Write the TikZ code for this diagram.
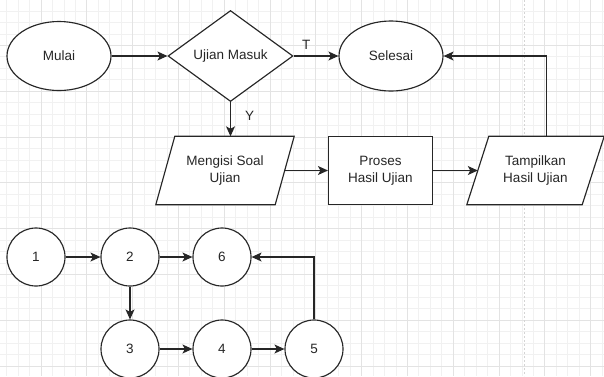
\documentclass[tikz,border=0pt]{standalone}
\usepackage{fontspec}
\setmainfont{Liberation Sans}
\usetikzlibrary{shapes.geometric,arrows.meta}
\definecolor{ink}{HTML}{262626}
\definecolor{gridminor}{HTML}{F1F1F1}
\definecolor{gridmajor}{HTML}{E3E3E3}
\definecolor{pagebrk}{HTML}{D4D4D4}
\pgfdeclarelayer{gridlayer}
\pgfdeclarelayer{bg}
\pgfsetlayers{gridlayer,bg,main}
\begin{document}
\begin{tikzpicture}[x=1pt,y=-1pt,
  every node/.style={font=\fontsize{13.5}{16.5}\selectfont, text=ink},
  shapeline/.style={draw=ink, line width=1.15pt, fill=white},
  oval/.style={shapeline, ellipse, inner sep=0pt},
  decision/.style={shapeline, diamond, inner sep=0pt},
  procbox/.style={shapeline, rectangle, inner sep=0pt, align=center},
  iobox/.style={rectangle, inner sep=0pt, align=center},
  numnode/.style={shapeline, circle, inner sep=0pt, minimum size=58pt},
  flow/.style={draw=ink, line width=1.15pt, -{Stealth[length=10pt,width=9pt,inset=2.5pt]}},
  edgelabel/.style={inner sep=0pt},
  minorline/.style={draw=gridminor, line width=0.8pt},
  majorline/.style={draw=gridmajor, line width=0.8pt},
  pagebreak/.style={draw=pagebrk, line width=0.9pt, dash pattern=on 2pt off 2pt}
]
\useasboundingbox (0,0) rectangle (604,376);

% ---------- grid background ----------
\begin{pgfonlayer}{gridlayer}
  \fill[white] (0,0) rectangle (604,376);
  \begin{scope}
    \clip (0,0) rectangle (604,376);
    \foreach \i in {0,...,53} {
      \draw[minorline] ({6.65+11.45*\i},0) -- ({6.65+11.45*\i},376);
    }
    \foreach \j in {0,...,33} {
      \draw[minorline] (0,{-0.4+11.45*\j}) -- (604,{-0.4+11.45*\j});
    }
    \foreach \i in {0,...,13} {
      \draw[majorline] ({-4.8+45.8*\i},0) -- ({-4.8+45.8*\i},376);
    }
    \foreach \j in {0,...,8} {
      \draw[majorline] (0,{-0.4+45.8*\j}) -- (604,{-0.4+45.8*\j});
    }
    \draw[pagebreak] (524,0) -- (524,376);
  \end{scope}
\end{pgfonlayer}

% ---------- flowchart ----------
\node[oval, minimum width=104pt, minimum height=69pt] (mulai) at (59,56) {Mulai};
\node[decision, minimum width=125pt, minimum height=91pt] (ujian) at (230.5,56) {\makebox[0pt]{Ujian Masuk}};
\node[oval, minimum width=104pt, minimum height=70pt] (selesai) at (391,56) {Selesai};

\node[iobox, minimum width=119pt, minimum height=68pt] (mengisi) at (225,170.5) {Mengisi Soal\\Ujian};
\node[procbox, minimum width=104pt, minimum height=68pt] (proses) at (380.5,170.5) {Proses\\Hasil Ujian};
\node[iobox, minimum width=115pt, minimum height=68pt] (tampil) at (535.5,170.5) {Tampilkan\\Hasil Ujian};

\begin{pgfonlayer}{bg}
  \draw[shapeline] ([xshift=9.5pt]mengisi.north west) -- ([xshift=9.5pt]mengisi.north east)
    -- ([xshift=-9.5pt]mengisi.south east) -- ([xshift=-9.5pt]mengisi.south west) -- cycle;
  \draw[shapeline] ([xshift=11pt]tampil.north west) -- ([xshift=11pt]tampil.north east)
    -- ([xshift=-11pt]tampil.south east) -- ([xshift=-11pt]tampil.south west) -- cycle;
\end{pgfonlayer}

\draw[flow] (mulai.east) -- (ujian.west);
\draw[flow] (ujian.east) -- node[edgelabel, pos=0.28, anchor=south, yshift=6pt] {T} (selesai.west);
\draw[flow] (ujian.south) -- node[edgelabel, pos=0.4, anchor=west, xshift=14pt] {Y} (ujian.south |- mengisi.north);
\draw[flow] (mengisi.east) -- (proses.west);
\draw[flow] (proses.east) -- (tampil.west);
\draw[flow] ([xshift=11pt]tampil.north) |- (selesai.east);

% ---------- numbered graph ----------
\node[numnode] (n1) at (36,257) {1};
\node[numnode] (n2) at (130,257) {2};
\node[numnode] (n6) at (222,257) {6};
\node[numnode] (n3) at (130,349) {3};
\node[numnode] (n4) at (222,349) {4};
\node[numnode] (n5) at (314,349) {5};

\draw[flow] (n1) -- (n2);
\draw[flow] (n2) -- (n6);
\draw[flow] (n2) -- (n3);
\draw[flow] (n3) -- (n4);
\draw[flow] (n4) -- (n5);
\draw[flow] (n5.north) |- (n6.east);
\end{tikzpicture}
\end{document}
